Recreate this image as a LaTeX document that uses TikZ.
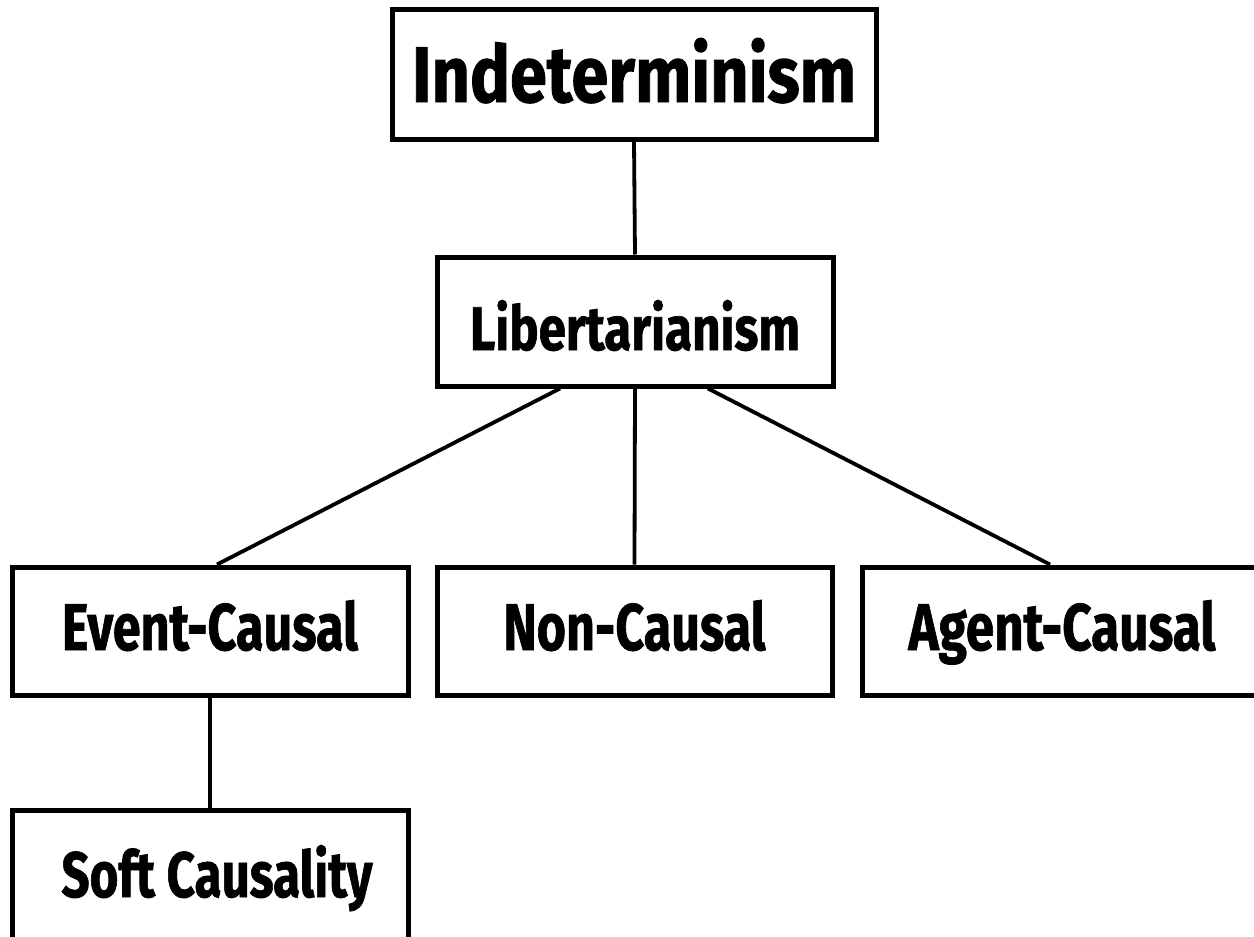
\documentclass[tikz,border=0pt]{standalone}
\usepackage{fontspec}
\setmainfont{Fira Sans}[BoldFeatures={FakeBold=1.2}]
\newcommand\lbl[3]{\resizebox{#1pt}{#2pt}{\bfseries #3}}
\tikzset{
  box/.style={draw, line width=5pt, inner sep=0pt, fill=white},
  link/.style={line width=3.8pt}
}
\begin{document}
\begin{tikzpicture}[x=1pt,y=-1pt]
\useasboundingbox (0,0) rectangle (1254,937);
\clip (0,0) rectangle (1254,937);
\fill[white] (0,0) rectangle (1254,937);
\node[box, minimum width=484pt, minimum height=130pt, text height=56pt, text depth=0pt] (ind) at (634,74) {\lbl{444}{64}{Indeterminism}};
\node[box, minimum width=396pt, minimum height=129pt, text height=57pt, text depth=0pt] (lib) at (635,321.5) {\lbl{330}{50}{Libertarianism}};
\node[box, minimum width=396pt, minimum height=128pt, text height=38pt, text depth=0pt] (ev) at (210,631) {\lbl{296}{50}{Event-Causal}};
\node[box, minimum width=395pt, minimum height=128pt, text height=38pt, text depth=0pt] (non) at (634.5,631) {\lbl{262}{50}{Non-Causal}};
\node[box, minimum width=400pt, minimum height=128pt, text height=38pt, text depth=0pt] (ag) at (1062,631) {\lbl{307}{50}{Agent-Causal}};
\node[box, minimum width=396pt, minimum height=200pt, text height=0pt, text depth=26pt] (soft) at (210,910) {\hspace*{14pt}\lbl{311}{52}{Soft Causality}};
\draw[link] (ind.south) -- (lib.north);
\draw[link] ([xshift=-75pt]lib.south) -- ([xshift=7pt]ev.north);
\draw[link] (lib.south) -- (non.north);
\draw[link] ([xshift=73pt]lib.south) -- ([xshift=-12pt]ag.north);
\draw[link] (ev.south) -- (soft.north);
\end{tikzpicture}
\end{document}
